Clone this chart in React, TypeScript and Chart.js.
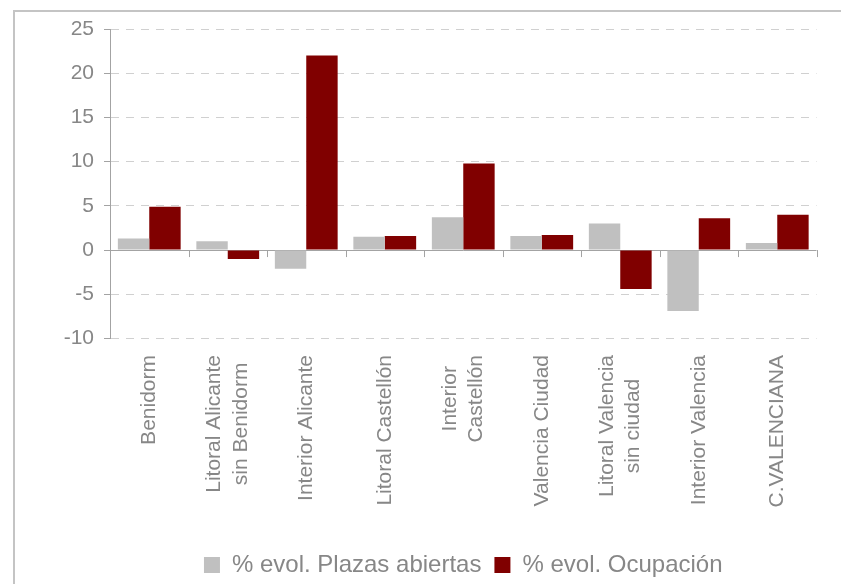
import React, { useEffect, useRef } from "react";
import { Chart, registerables } from "chart.js";

Chart.register(...registerables);

const categories: (string | string[])[] = [
  "Benidorm",
  ["Litoral Alicante", "sin Benidorm"],
  "Interior Alicante",
  "Litoral Castellón",
  ["Interior", "Castellón"],
  "Valencia Ciudad",
  ["Litoral Valencia", "sin ciudad"],
  "Interior Valencia",
  "C.VALENCIANA",
];

const seriesNames = ["% evol. Plazas abiertas", "% evol. Ocupación"];
const plazasAbiertas = [1.3, 1.0, -2.1, 1.5, 3.7, 1.6, 3.0, -6.9, 0.8];
const ocupacion = [4.9, -1.0, 22.0, 1.6, 9.8, 1.7, -4.4, 3.6, 4.0];

const yMin = -10;
const yMax = 25;
const yStep = 5;

const FONT = "'Liberation Sans', Arial, sans-serif";
const TEXT_COLOR = "#878787";
const AXIS_COLOR = "#a3a3a3";
const GRID_COLOR = "#d0d0d0";

const xLabelPlugin = {
  id: "xLabelPlugin",
  afterDraw(chart: any) {
    const ctx = chart.ctx;
    const xs = chart.scales.x;
    const ys = chart.scales.y;
    const y0 = ys.getPixelForValue(0);
    ctx.save();
    // category boundary tick marks on the zero line
    ctx.strokeStyle = AXIS_COLOR;
    ctx.lineWidth = 1;
    ctx.beginPath();
    for (let i = 0; i <= categories.length; i++) {
      const px = Math.round(xs.getPixelForValue(i - 0.5)) + 0.5;
      ctx.moveTo(px, y0);
      ctx.lineTo(px, y0 + 7);
    }
    ctx.stroke();
    // rotated, centre-aligned category labels
    ctx.font = `21px ${FONT}`;
    ctx.fillStyle = TEXT_COLOR;
    ctx.textAlign = "center";
    ctx.textBaseline = "middle";
    const top = chart.chartArea.bottom + 16.5;
    const lh = 26.5;
    categories.forEach((lab, i) => {
      const lines = Array.isArray(lab) ? lab : [lab];
      const maxW = Math.max(...lines.map((l) => ctx.measureText(l).width));
      const cx = xs.getPixelForValue(i);
      ctx.save();
      ctx.translate(cx, top);
      ctx.rotate(-Math.PI / 2);
      lines.forEach((l, j) => {
        ctx.fillText(l, -maxW / 2, (j - (lines.length - 1) / 2) * lh);
      });
      ctx.restore();
    });
    ctx.restore();
  },
};

export default function App() {
  const ref = useRef<HTMLCanvasElement | null>(null);

  useEffect(() => {
    if (!ref.current) return;
    const chart = new Chart(ref.current, {
      type: "bar",
      data: {
        labels: categories as any,
        datasets: [
          {
            label: seriesNames[0],
            data: plazasAbiertas,
            backgroundColor: "#c0c0c0",
            borderWidth: 0,
          },
          {
            label: seriesNames[1],
            data: ocupacion,
            backgroundColor: "#800000",
            borderWidth: 0,
          },
        ],
      },
      options: {
        responsive: false,
        animation: false,
        devicePixelRatio: 1,
        layout: { padding: { left: 0, right: 24.5, top: 29, bottom: -3 } },
        datasets: { bar: { categoryPercentage: 0.8, barPercentage: 1.0 } },
        plugins: {
          legend: {
            position: "bottom",
            fullSize: false,
            labels: {
              boxWidth: 16,
              boxHeight: 16,
              padding: 13,
              color: TEXT_COLOR,
              font: { family: FONT, size: 24 },
            },
          },
          tooltip: { enabled: false },
          title: { display: false },
        },
        scales: {
          x: {
            type: "category",
            ticks: { display: false },
            grid: { display: false },
            border: { display: false },
            afterFit: (s: any) => {
              s.height = 201.5;
            },
          },
          y: {
            min: yMin,
            max: yMax,
            ticks: {
              stepSize: yStep,
              padding: 10,
              color: TEXT_COLOR,
              font: { family: FONT, size: 21 },
            },
            grid: {
              color: (c: any) => (c.tick && c.tick.value === 0 ? AXIS_COLOR : GRID_COLOR),
              tickColor: AXIS_COLOR,
              tickLength: 6,
              lineWidth: 1,
            },
            border: {
              display: true,
              color: AXIS_COLOR,
              width: 1,
              dash: (c: any) => (c.type === "tick" && c.tick && c.tick.value !== 0 ? [8, 7] : []),
            } as any,
            afterFit: (s: any) => {
              s.width = 110;
            },
          },
        },
      },
      plugins: [xLabelPlugin],
    });
    return () => chart.destroy();
  }, []);

  return (
    <div
      style={{
        position: "absolute",
        left: 0,
        top: 0,
        width: 841,
        height: 584,
        overflow: "hidden",
        background: "#ffffff",
      }}
    >
      <div
        style={{
          position: "absolute",
          left: 13,
          top: 10,
          width: 1000,
          height: 1000,
          border: "2px solid #c4c4c4",
          boxSizing: "border-box",
        }}
      />
      <canvas
        ref={ref}
        width={841}
        height={584}
        style={{ position: "absolute", left: 0, top: 0, width: 841, height: 584 }}
      />
    </div>
  );
}
